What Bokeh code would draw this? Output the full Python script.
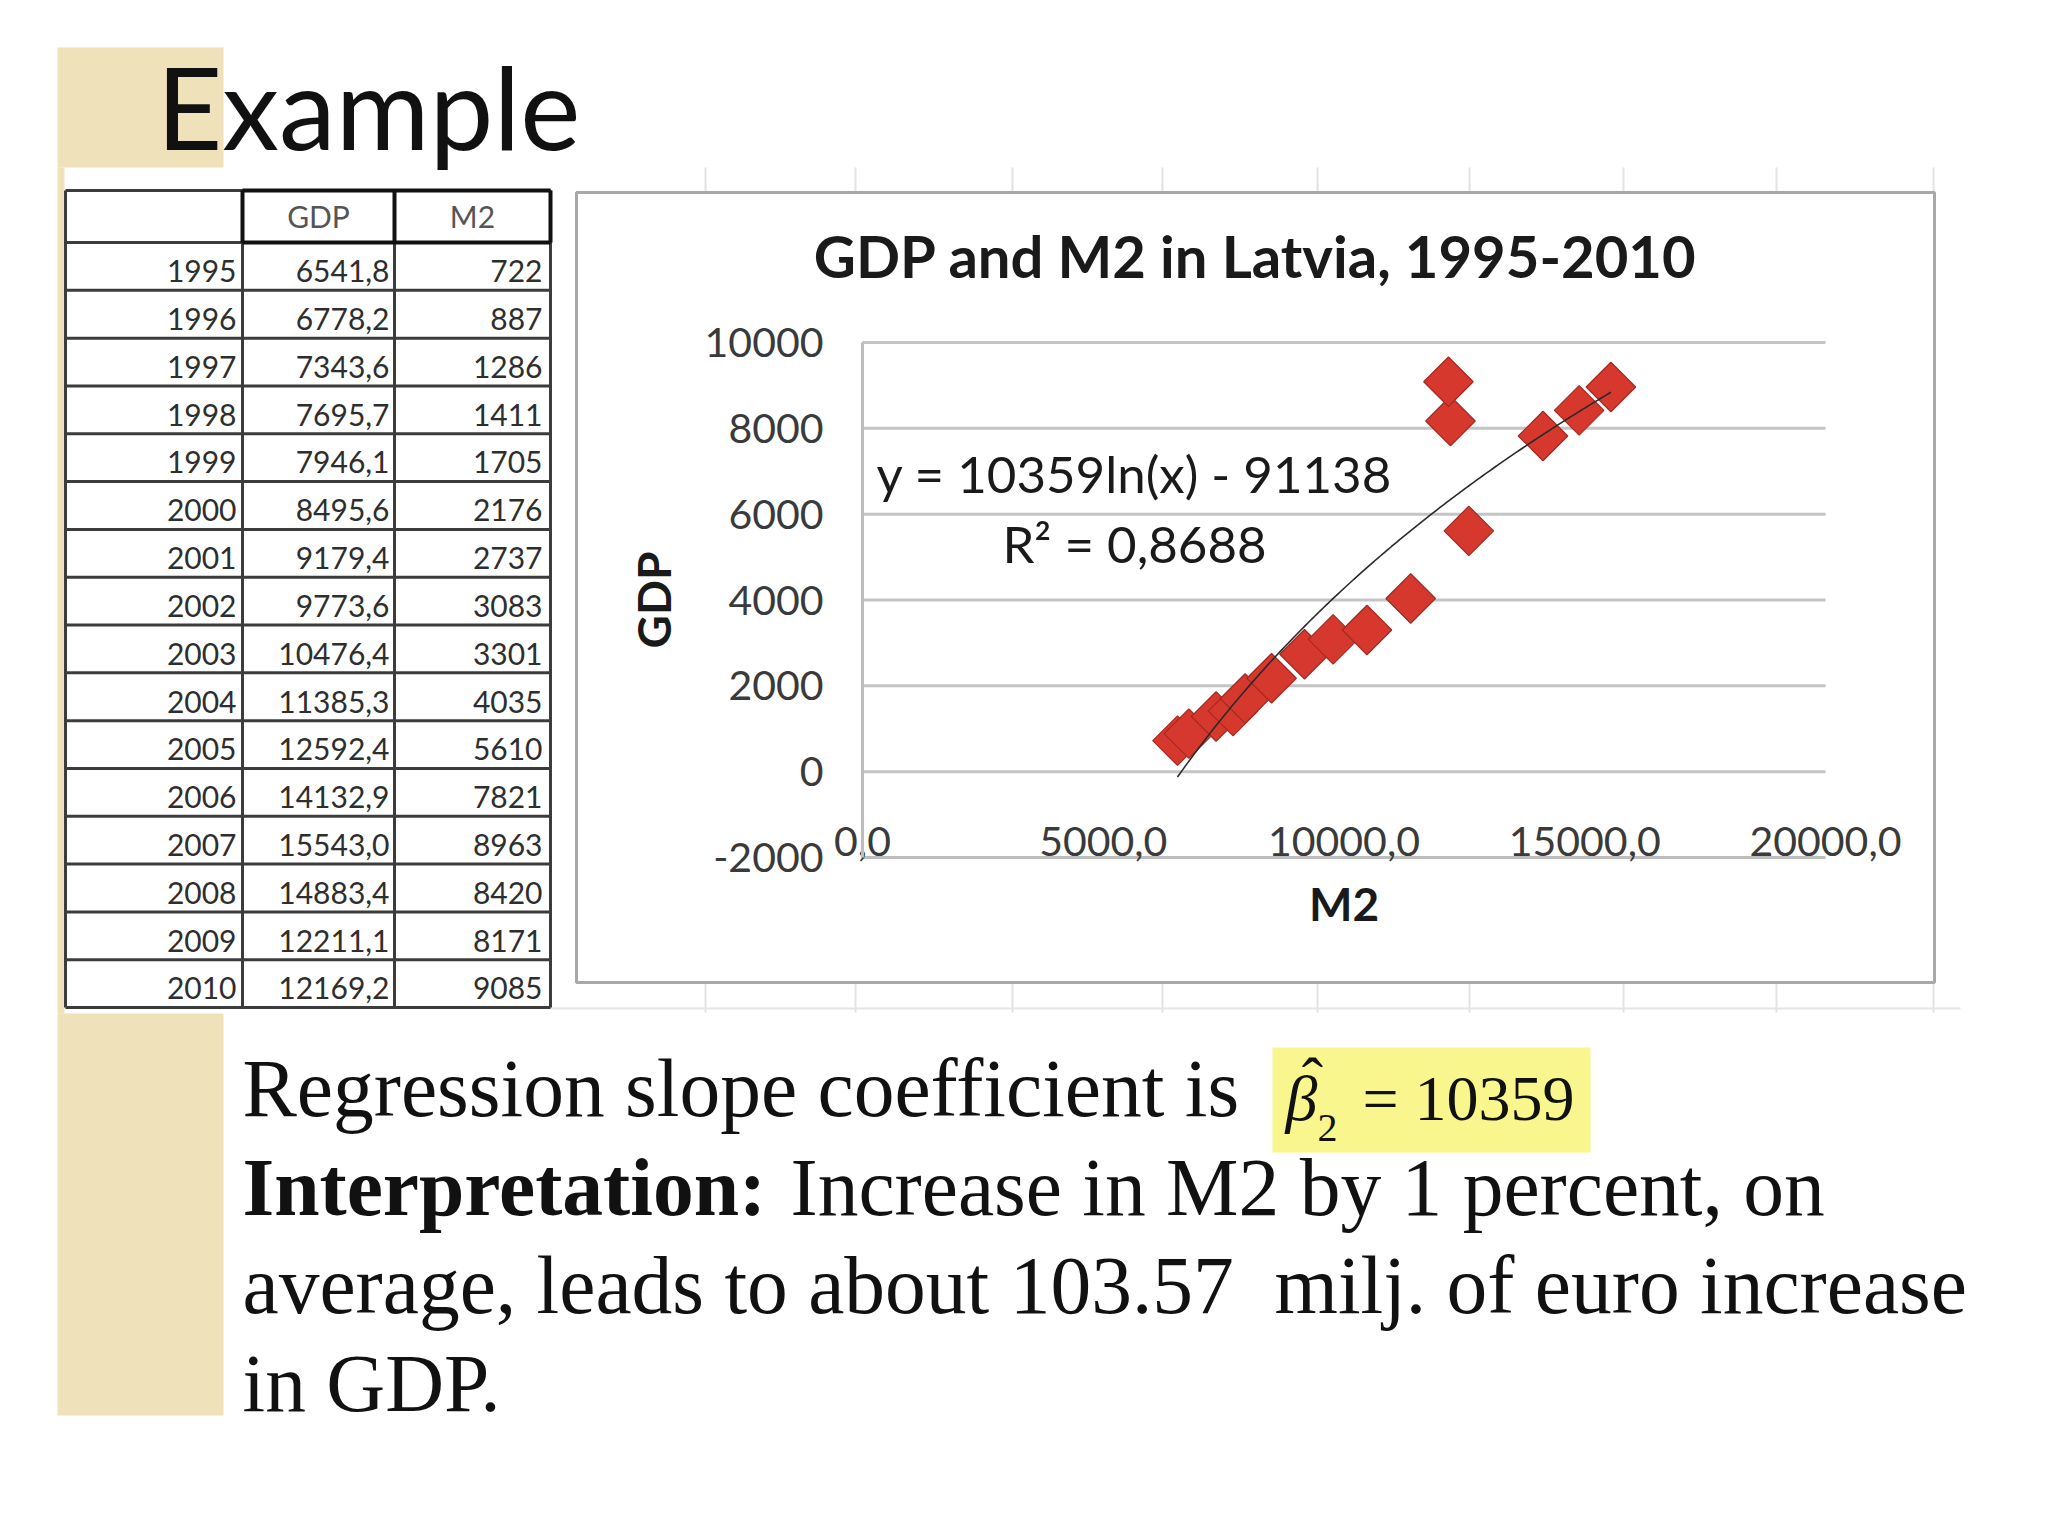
import numpy as np
from bokeh.plotting import figure
from bokeh.models import Range1d, LinearAxis, FixedTicker
from bokeh.core.properties import value
from bokeh.embed import file_html
from bokeh.resources import INLINE

# ---------------- data ----------------
YEARS = [1995, 1996, 1997, 1998, 1999, 2000, 2001, 2002,
         2003, 2004, 2005, 2006, 2007, 2008, 2009, 2010]
GDP = [6541.8, 6778.2, 7343.6, 7695.7, 7946.1, 8495.6, 9179.4, 9773.6,
       10476.4, 11385.3, 12592.4, 14132.9, 15543.0, 14883.4, 12211.1, 12169.2]
M2 = [722, 887, 1286, 1411, 1705, 2176, 2737, 3083,
      3301, 4035, 5610, 7821, 8963, 8420, 8171, 9085]
TABLE_HEADERS = ["", "GDP", "M2"]

X_TICKS = [0, 5000, 10000, 15000, 20000]
Y_TICKS = [-2000, 0, 2000, 4000, 6000, 8000, 10000]
X_TICK_LABELS = ["0,0", "5000,0", "10000,0", "15000,0", "20000,0"]
Y_TICK_LABELS = ["-2000", "0", "2000", "4000", "6000", "8000", "10000"]

TREND_A = 10359
TREND_B = -91138
EQ_TEXT = "y = 10359ln(x) - 91138"
R2_TEXT = "R² = 0,8688"

SLIDE_TITLE = "Example"
CHART_TITLE = "GDP and M2 in Latvia, 1995-2010"
X_TITLE = "M2"
Y_TITLE = "GDP"

LINE1 = "Regression slope coefficient is"
LINE2_BOLD = "Interpretation:"
LINE2_REST = "Increase in M2 by 1 percent, on"
LINE3 = "average, leads to about 103.57\u00a0 milj. of euro increase"
LINE4 = "in GDP."
BETA_SYMBOL = "β"
BETA_HAT = "ˆ"
BETA_SUB = "2"
BETA_VALUE = "= 10359"

# ---------------- layout (screen pixels) ----------------
W, H = 2032, 1520

PLOT_L, PLOT_R = 862, 1825     # screen x of first / last x tick
PLOT_T, PLOT_B = 342, 857      # screen y of last / first y tick

SANS = "Lato"
SERIF = "Liberation Serif"
BEIGE = "#EFE1BA"
K = 0.37  # baseline correction (fraction of font size)


def bl(y, size):
    """screen baseline -> y passed to the text glyph"""
    return y - K * size


p = figure(width=W, height=H, x_range=Range1d(0, W), y_range=Range1d(H, 0),
           output_backend="svg", toolbar_location=None,
           x_axis_type=None, y_axis_type=None, min_border=0)
p.outline_line_color = None
p.background_fill_color = "white"
p.border_fill_color = "white"
p.grid.visible = False

# chart coordinate system mapped onto the plot area
sx = (X_TICKS[-1] - X_TICKS[0]) / (PLOT_R - PLOT_L)
sy = (Y_TICKS[-1] - Y_TICKS[0]) / (PLOT_B - PLOT_T)
p.extra_x_ranges = {"cx": Range1d(X_TICKS[0] - PLOT_L * sx,
                                  X_TICKS[-1] + (W - PLOT_R) * sx)}
p.extra_y_ranges = {"cy": Range1d(Y_TICKS[0] - (H - PLOT_B) * sy,
                                  Y_TICKS[-1] + PLOT_T * sy)}

# ---------------- decorative slide background ----------------
p.quad(left=[57, 57, 57], right=[223, 64, 223], top=[47, 167, 1013], bottom=[167, 1013, 1415],
       fill_color=BEIGE, line_color=None)

# faint spreadsheet cell lines around the chart
cell_x = [705, 855, 1012, 1162, 1317, 1469, 1623, 1776, 1933]
p.segment(x0=cell_x, x1=cell_x, y0=[167] * len(cell_x), y1=[192] * len(cell_x),
          line_color="#E2E2E2", line_width=2)
p.segment(x0=cell_x, x1=cell_x, y0=[982] * len(cell_x), y1=[1012] * len(cell_x),
          line_color="#E2E2E2", line_width=2)
p.segment(x0=[550], x1=[1960], y0=[1008], y1=[1008], line_color="#E6E6E6", line_width=2)

# ---------------- slide title ----------------
p.text(x=[156], y=[bl(147, 114)], text=[SLIDE_TITLE], text_font=value(SANS),
       text_font_size=value("114px"), text_color="#111111", text_baseline="alphabetic")

# ---------------- data table ----------------
T_L, C1, C2, T_R = 65, 242, 394, 550
T_TOP, HDR_B, T_BOT = 190, 242, 1007
n = len(YEARS)
row_h = (T_BOT - HDR_B) / n
row_lines = [HDR_B + i * row_h for i in range(n + 1)]

p.segment(x0=[T_L] * (n + 2), x1=[T_R] * (n + 2), y0=[T_TOP] + row_lines, y1=[T_TOP] + row_lines,
          line_color="#3C3C3C", line_width=3)
p.segment(x0=[T_L, C1, C2, T_R], x1=[T_L, C1, C2, T_R], y0=[T_TOP] * 4, y1=[T_BOT] * 4,
          line_color="#3C3C3C", line_width=3)
# bold header box around GDP / M2
p.segment(x0=[C1, C1, C1, C2, T_R], x1=[T_R, T_R, C1, C2, T_R],
          y0=[T_TOP, HDR_B, T_TOP, T_TOP, T_TOP], y1=[T_TOP, HDR_B, HDR_B, HDR_B, HDR_B],
          line_color="#111111", line_width=4)

TS = 30
p.text(x=[(C1 + C2) / 2, (C2 + T_R) / 2], y=[bl(HDR_B - 15, TS)] * 2, text=TABLE_HEADERS[1:],
       text_font=value(SANS), text_font_size=value(f"{TS}px"), text_color="#555555",
       text_align="center", text_baseline="alphabetic")
base = [bl(HDR_B + (i + 1) * row_h - 8, TS) for i in range(n)]
p.text(x=[C1 - 6] * n, y=base, text=[str(y) for y in YEARS], text_font=value(SANS),
       text_font_size=value(f"{TS}px"), text_color="#2E2E2E", text_align="right",
       text_baseline="alphabetic")
p.text(x=[C2 - 5] * n, y=base, text=[f"{v:.1f}".replace(".", ",") for v in GDP],
       text_font=value(SANS), text_font_size=value(f"{TS}px"), text_color="#2E2E2E",
       text_align="right", text_baseline="alphabetic")
p.text(x=[T_R - 8] * n, y=base, text=[str(v) for v in M2], text_font=value(SANS),
       text_font_size=value(f"{TS}px"), text_color="#2E2E2E", text_align="right",
       text_baseline="alphabetic")

# ---------------- chart box ----------------
BOX_L, BOX_R, BOX_T, BOX_B = 576, 1934, 192, 982
p.quad(left=[BOX_L], right=[BOX_R], top=[BOX_T], bottom=[BOX_B], fill_color="white",
       line_color="#A8A8A8", line_width=3)

p.text(x=[(BOX_L + BOX_R) / 2], y=[bl(276, 58)], text=[CHART_TITLE], text_font=value(SANS),
       text_font_style="bold", text_font_size=value("58px"), text_color="#1A1A1A",
       text_align="center", text_baseline="alphabetic")

# gridlines
gy = Y_TICKS[1:]
p.segment(x0=[X_TICKS[0]] * len(gy), x1=[X_TICKS[-1]] * len(gy), y0=gy, y1=gy,
          line_color="#C4C4C4", line_width=3, x_range_name="cx", y_range_name="cy")

# scatter points
p.scatter(x=GDP, y=M2, marker="square", angle=np.pi / 4, size=35,
          fill_color="#D7382D", line_color="#A32A22", line_width=1.2,
          x_range_name="cx", y_range_name="cy")

# logarithmic trend line from the displayed equation
tx = np.linspace(min(GDP), max(GDP), 200)
ty = TREND_A * np.log(tx) + TREND_B
p.line(x=tx, y=ty, line_color="#2A2A2A", line_width=1.6, x_range_name="cx", y_range_name="cy")

# trendline equation
p.text(x=[1134, 1134], y=[bl(492, 51), bl(562, 51)], text=[EQ_TEXT, R2_TEXT],
       text_font=value(SANS), text_font_size=value("51px"), text_color="#1A1A1A",
       text_align="center", text_baseline="alphabetic")

# axes
xaxis = LinearAxis(x_range_name="cx", y_range_name="cy", fixed_location=Y_TICKS[0],
                   bounds=(X_TICKS[0], X_TICKS[-1]), ticker=FixedTicker(ticks=X_TICKS),
                   major_label_overrides=dict(zip(X_TICKS, X_TICK_LABELS)),
                   axis_label=X_TITLE)
yaxis = LinearAxis(x_range_name="cx", y_range_name="cy", fixed_location=X_TICKS[0],
                   bounds=(Y_TICKS[0], Y_TICKS[-1]), ticker=FixedTicker(ticks=Y_TICKS),
                   major_label_overrides=dict(zip(Y_TICKS, Y_TICK_LABELS)),
                   axis_label=Y_TITLE)
for ax in (xaxis, yaxis):
    ax.axis_line_color = "#BDBDBD"
    ax.axis_line_width = 3
    ax.major_tick_line_color = None
    ax.minor_tick_line_color = None
    ax.major_tick_out = 0
    ax.major_tick_in = 0
    ax.major_label_text_font = SANS
    ax.major_label_text_font_size = "41px"
    ax.major_label_text_color = "#3A3A3A"
    ax.axis_label_text_font = SANS
    ax.axis_label_text_font_style = "bold"
    ax.axis_label_text_font_size = "46px"
    ax.axis_label_text_color = "#1A1A1A"
xaxis.major_label_standoff = -31
xaxis.axis_label_standoff = 17
yaxis.major_label_standoff = 39
yaxis.axis_label_standoff = 21
p.add_layout(xaxis, "below")
p.add_layout(yaxis, "left")

# ---------------- explanation text ----------------
p.quad(left=[1272], right=[1590], top=[1047], bottom=[1152], fill_color="#F8F68C", line_color=None)
p.text(x=[1285], y=[bl(1122, 64)], text=[BETA_SYMBOL], text_font=value(SERIF),
       text_font_style="italic", text_font_size=value("64px"), text_color="#111111",
       text_baseline="alphabetic")
p.text(x=[1312], y=[bl(1104, 64)], text=[BETA_HAT], text_font=value(SERIF),
       text_font_size=value("64px"), text_color="#111111", text_align="center",
       text_baseline="alphabetic")
p.text(x=[1317], y=[bl(1142, 40)], text=[BETA_SUB], text_font=value(SERIF),
       text_font_size=value("40px"), text_color="#111111", text_baseline="alphabetic")
p.text(x=[1362], y=[bl(1122, 64)], text=[BETA_VALUE], text_font=value(SERIF),
       text_font_size=value("64px"), text_color="#111111", text_baseline="alphabetic")

FS = 81.5
p.text(x=[242, 242, 242], y=[bl(1118, FS), bl(1315, FS), bl(1413, FS)], text=[LINE1, LINE3, LINE4],
       text_font=value(SERIF), text_font_size=value(f"{FS}px"), text_color="#111111",
       text_baseline="alphabetic")
p.text(x=[242], y=[bl(1217, FS)], text=[LINE2_BOLD], text_font=value(SERIF), text_font_style="bold",
       text_font_size=value(f"{FS}px"), text_color="#111111", text_baseline="alphabetic")
p.text(x=[790], y=[bl(1217, FS)], text=[LINE2_REST], text_font=value(SERIF),
       text_font_size=value(f"{FS}px"), text_color="#111111", text_baseline="alphabetic")

open("out.html", "w").write(file_html(p, INLINE))
